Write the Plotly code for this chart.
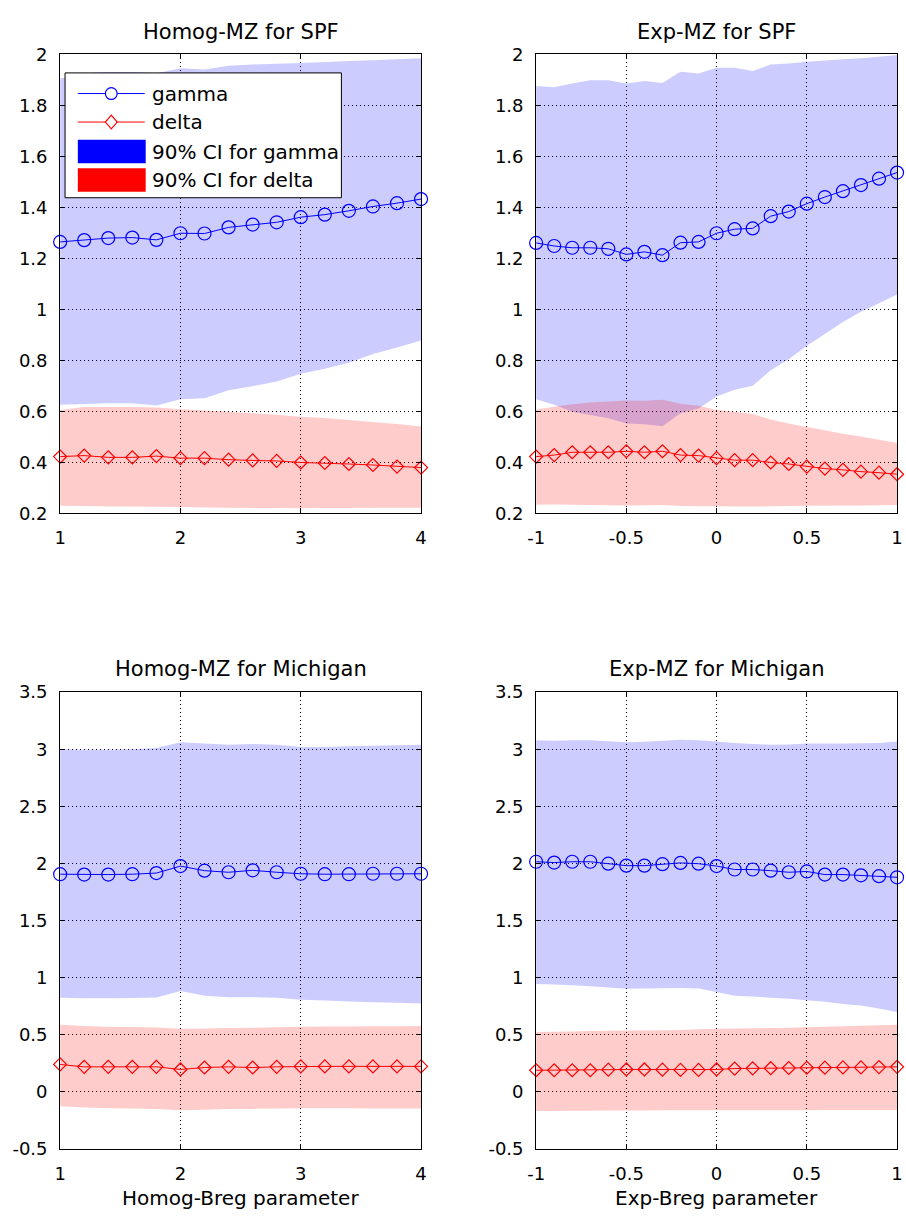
import plotly.graph_objects as go

# ---------------- data ----------------
x_homog = [1.0, 1.2, 1.4, 1.6, 1.8, 2.0, 2.2, 2.4, 2.6, 2.8, 3.0, 3.2, 3.4, 3.6, 3.8, 4.0]
x_exp = [-1.0, -0.9, -0.8, -0.7, -0.6, -0.5, -0.4, -0.3, -0.2, -0.1, 0.0,
         0.1, 0.2, 0.3, 0.4, 0.5, 0.6, 0.7, 0.8, 0.9, 1.0]

# Homog-MZ for SPF
spf_h_gamma = [1.264, 1.271, 1.279, 1.281, 1.272, 1.298, 1.297, 1.321, 1.332, 1.341, 1.361, 1.371, 1.386, 1.403, 1.416, 1.432]
spf_h_delta = [0.422, 0.426, 0.419, 0.419, 0.424, 0.416, 0.416, 0.410, 0.407, 0.405, 0.399, 0.397, 0.393, 0.389, 0.383, 0.379]
spf_h_g_up = [1.905, 1.925, 1.930, 1.930, 1.925, 1.945, 1.940, 1.955, 1.960, 1.963, 1.966, 1.970, 1.973, 1.976, 1.980, 1.984]
spf_h_g_lo = [0.625, 0.628, 0.631, 0.631, 0.622, 0.647, 0.651, 0.682, 0.698, 0.717, 0.747, 0.767, 0.790, 0.824, 0.850, 0.877]
spf_h_d_up = [0.605, 0.617, 0.617, 0.617, 0.615, 0.608, 0.603, 0.598, 0.592, 0.586, 0.578, 0.573, 0.566, 0.558, 0.550, 0.540]
spf_h_d_lo = [0.229, 0.228, 0.226, 0.226, 0.225, 0.224, 0.222, 0.221, 0.220, 0.220, 0.219, 0.220, 0.220, 0.221, 0.221, 0.221]

# Exp-MZ for SPF
spf_e_gamma = [1.260, 1.248, 1.241, 1.241, 1.237, 1.215, 1.225, 1.212, 1.261, 1.264, 1.298,
               1.314, 1.317, 1.365, 1.383, 1.414, 1.440, 1.463, 1.487, 1.512, 1.536]
spf_e_delta = [0.422, 0.428, 0.439, 0.439, 0.439, 0.443, 0.439, 0.443, 0.428, 0.426, 0.416,
               0.408, 0.408, 0.399, 0.393, 0.383, 0.375, 0.370, 0.363, 0.359, 0.353]
spf_e_g_up = [1.875, 1.871, 1.885, 1.898, 1.898, 1.885, 1.895, 1.887, 1.931, 1.924, 1.947,
              1.947, 1.934, 1.960, 1.964, 1.971, 1.975, 1.980, 1.984, 1.990, 1.997]
spf_e_g_lo = [0.647, 0.625, 0.598, 0.585, 0.572, 0.552, 0.549, 0.541, 0.592, 0.611, 0.658,
              0.684, 0.700, 0.761, 0.804, 0.857, 0.903, 0.950, 0.990, 1.023, 1.058]
spf_e_d_up = [0.607, 0.618, 0.627, 0.634, 0.638, 0.642, 0.641, 0.645, 0.629, 0.621, 0.605,
              0.598, 0.589, 0.568, 0.552, 0.538, 0.525, 0.512, 0.501, 0.488, 0.475]
spf_e_d_lo = [0.233, 0.234, 0.233, 0.232, 0.231, 0.230, 0.231, 0.232, 0.228, 0.227, 0.227,
              0.226, 0.226, 0.227, 0.228, 0.229, 0.229, 0.230, 0.230, 0.231, 0.232]

# Homog-MZ for Michigan
mich_h_gamma = [1.906, 1.903, 1.903, 1.906, 1.916, 1.977, 1.937, 1.923, 1.940, 1.923, 1.910, 1.906, 1.906, 1.910, 1.910, 1.910]
mich_h_delta = [0.241, 0.220, 0.220, 0.220, 0.220, 0.197, 0.214, 0.220, 0.214, 0.220, 0.224, 0.224, 0.224, 0.224, 0.224, 0.224]
mich_h_g_up = [3.000, 2.995, 2.995, 3.000, 3.010, 3.062, 3.050, 3.040, 3.045, 3.040, 3.020, 3.020, 3.025, 3.030, 3.035, 3.040]
mich_h_g_lo = [0.825, 0.820, 0.820, 0.822, 0.826, 0.883, 0.842, 0.830, 0.830, 0.825, 0.808, 0.800, 0.791, 0.785, 0.780, 0.774]
mich_h_d_up = [0.588, 0.578, 0.570, 0.568, 0.565, 0.554, 0.556, 0.560, 0.562, 0.566, 0.570, 0.572, 0.574, 0.575, 0.576, 0.577]
mich_h_d_lo = [-0.126, -0.135, -0.143, -0.145, -0.150, -0.160, -0.155, -0.150, -0.148, -0.145, -0.143, -0.143, -0.143, -0.145, -0.145, -0.145]

# Exp-MZ for Michigan
mich_e_gamma = [2.015, 2.008, 2.015, 2.015, 1.998, 1.981, 1.981, 1.994, 2.005, 1.998, 1.977,
                1.947, 1.947, 1.937, 1.923, 1.930, 1.903, 1.903, 1.896, 1.889, 1.879]
mich_e_delta = [0.190, 0.190, 0.190, 0.190, 0.195, 0.197, 0.197, 0.195, 0.193, 0.193, 0.197,
                0.205, 0.207, 0.208, 0.210, 0.212, 0.213, 0.215, 0.215, 0.218, 0.220]
mich_e_g_up = [3.079, 3.075, 3.078, 3.078, 3.070, 3.062, 3.065, 3.075, 3.082, 3.078, 3.068,
               3.055, 3.045, 3.040, 3.042, 3.050, 3.050, 3.050, 3.052, 3.055, 3.068]
mich_e_g_lo = [0.944, 0.940, 0.935, 0.925, 0.915, 0.904, 0.905, 0.908, 0.910, 0.905, 0.876,
               0.842, 0.835, 0.825, 0.815, 0.802, 0.790, 0.770, 0.757, 0.730, 0.700]
mich_e_d_up = [0.526, 0.528, 0.530, 0.533, 0.536, 0.537, 0.539, 0.541, 0.543, 0.548, 0.553,
               0.555, 0.557, 0.560, 0.563, 0.567, 0.570, 0.575, 0.580, 0.584, 0.588]
mich_e_d_lo = [-0.167, -0.166, -0.165, -0.164, -0.163, -0.162, -0.162, -0.161, -0.161, -0.160, -0.160,
               -0.160, -0.160, -0.159, -0.159, -0.159, -0.158, -0.158, -0.158, -0.158, -0.158]

titles = ["Homog-MZ for SPF", "Exp-MZ for SPF", "Homog-MZ for Michigan", "Exp-MZ for Michigan"]
xlabels = ["Homog-Breg parameter", "Exp-Breg parameter"]
legend_names = ["gamma", "delta", "90% CI for gamma", "90% CI for delta"]

xt_homog = [1, 2, 3, 4]
xt_homog_txt = ["1", "2", "3", "4"]
xt_exp = [-1, -0.5, 0, 0.5, 1]
xt_exp_txt = ["-1", "-0.5", "0", "0.5", "1"]
yt_spf = [0.2, 0.4, 0.6, 0.8, 1.0, 1.2, 1.4, 1.6, 1.8, 2.0]
yt_spf_txt = ["0.2", "0.4", "0.6", "0.8", "1", "1.2", "1.4", "1.6", "1.8", "2"]
yt_mich = [-0.5, 0, 0.5, 1, 1.5, 2, 2.5, 3, 3.5]
yt_mich_txt = ["-0.5", "0", "0.5", "1", "1.5", "2", "2.5", "3", "3.5"]

# ---------------- figure ----------------
W, H = 906, 1222
FONT = "DejaVu Sans"
BLUE, RED = "#0000FF", "#FF0000"
BLUE_FILL, RED_FILL = "rgba(0,0,255,0.2)", "rgba(255,0,0,0.2)"


def fx(px):
    return px / W


def fy(py):
    return 1 - py / H


panels = [
    dict(x=x_homog, g=spf_h_gamma, d=spf_h_delta, gu=spf_h_g_up, gl=spf_h_g_lo, du=spf_h_d_up, dl=spf_h_d_lo,
         px=(52, 419), py=(44, 511), xr=[1, 4], yr=[0.2, 2], xt=(xt_homog, xt_homog_txt), yt=(yt_spf, yt_spf_txt)),
    dict(x=x_exp, g=spf_e_gamma, d=spf_e_delta, gu=spf_e_g_up, gl=spf_e_g_lo, du=spf_e_d_up, dl=spf_e_d_lo,
         px=(536, 903), py=(44, 511), xr=[-1, 1], yr=[0.2, 2], xt=(xt_exp, xt_exp_txt), yt=(yt_spf, yt_spf_txt)),
    dict(x=x_homog, g=mich_h_gamma, d=mich_h_delta, gu=mich_h_g_up, gl=mich_h_g_lo, du=mich_h_d_up, dl=mich_h_d_lo,
         px=(52, 419), py=(693, 1158), xr=[1, 4], yr=[-0.5, 3.5], xt=(xt_homog, xt_homog_txt), yt=(yt_mich, yt_mich_txt)),
    dict(x=x_exp, g=mich_e_gamma, d=mich_e_delta, gu=mich_e_g_up, gl=mich_e_g_lo, du=mich_e_d_up, dl=mich_e_d_lo,
         px=(536, 903), py=(693, 1158), xr=[-1, 1], yr=[-0.5, 3.5], xt=(xt_exp, xt_exp_txt), yt=(yt_mich, yt_mich_txt)),
]

fig = go.Figure()
layout_axes = {}
annotations = []
shapes = []

for i, p in enumerate(panels):
    n = "" if i == 0 else str(i + 1)
    xa, ya = "x" + n, "y" + n
    x = p["x"]
    fig.add_trace(go.Scatter(x=x + x[::-1], y=p["gu"] + p["gl"][::-1], fill="toself",
                             fillcolor=BLUE_FILL, line=dict(width=0), mode="none",
                             hoverinfo="skip", showlegend=False, xaxis=xa, yaxis=ya))
    fig.add_trace(go.Scatter(x=x + x[::-1], y=p["du"] + p["dl"][::-1], fill="toself",
                             fillcolor=RED_FILL, line=dict(width=0), mode="none",
                             hoverinfo="skip", showlegend=False, xaxis=xa, yaxis=ya))
    fig.add_trace(go.Scatter(x=x, y=p["g"], mode="lines+markers", cliponaxis=False, name=legend_names[0],
                             line=dict(color=BLUE, width=1),
                             marker=dict(symbol="circle-open", size=13, color=BLUE, line=dict(width=1.2)),
                             showlegend=False, xaxis=xa, yaxis=ya))
    fig.add_trace(go.Scatter(x=x, y=p["d"], mode="lines+markers", cliponaxis=False, name=legend_names[1],
                             line=dict(color=RED, width=1),
                             marker=dict(symbol="diamond-open", size=10, color=RED, line=dict(width=1.2)),
                             showlegend=False, xaxis=xa, yaxis=ya))

    common = dict(showline=True, linecolor="black", linewidth=1, mirror="ticks",
                  ticks="inside", ticklen=5, tickcolor="black",
                  showgrid=True, gridcolor="black", gridwidth=1, griddash="1px,3px",
                  zeroline=False, tickfont=dict(family=FONT, size=18, color="black"),
                  fixedrange=True)
    layout_axes["xaxis" + n] = dict(common, domain=[fx(p["px"][0]), fx(p["px"][1])], range=p["xr"],
                                    tickmode="array", tickvals=p["xt"][0], ticktext=p["xt"][1],
                                    anchor=ya, ticklabelstandoff=8)
    layout_axes["yaxis" + n] = dict(common, domain=[fy(p["py"][1]), fy(p["py"][0])], range=p["yr"],
                                    tickmode="array", tickvals=p["yt"][0], ticktext=p["yt"][1],
                                    anchor=xa, ticklabelstandoff=8)
    cx = fx((p["px"][0] + p["px"][1]) / 2)
    ty = 21 if i < 2 else 670
    annotations.append(dict(text=titles[i], x=cx, y=fy(ty), xref="paper", yref="paper",
                            xanchor="center", yanchor="middle", showarrow=False,
                            font=dict(family=FONT, size=21, color="black")))
    if i >= 2:
        annotations.append(dict(text=xlabels[i - 2], x=cx, y=fy(1208), xref="paper", yref="paper",
                                xanchor="center", yanchor="middle", showarrow=False,
                                font=dict(family=FONT, size=20, color="black")))

# ---------------- legend (drawn in paper coordinates) ----------------
LX0, LY0, LX1, LY1 = 57, 63, 338, 190
shapes.append(dict(type="rect", xref="paper", yref="paper", x0=fx(LX0), x1=fx(LX1), y0=fy(LY1), y1=fy(LY0),
                   fillcolor="white", line=dict(color="black", width=1), layer="above"))
rows = [84, 113, 143, 172]
SX0, SX1, SXC = 70, 138, 104
# gamma row
shapes.append(dict(type="line", xref="paper", yref="paper", x0=fx(SX0), x1=fx(SX1), y0=fy(rows[0]), y1=fy(rows[0]),
                   line=dict(color=BLUE, width=1)))
shapes.append(dict(type="circle", xref="paper", yref="paper", x0=fx(SXC - 6), x1=fx(SXC + 6),
                   y0=fy(rows[0] + 6), y1=fy(rows[0] - 6), fillcolor="white", line=dict(color=BLUE, width=1.2)))
# delta row
shapes.append(dict(type="line", xref="paper", yref="paper", x0=fx(SX0), x1=fx(SX1), y0=fy(rows[1]), y1=fy(rows[1]),
                   line=dict(color=RED, width=1)))
dpath = "M {a},{b} L {c},{d} L {a},{e} L {f},{d} Z".format(
    a=fx(SXC), b=fy(rows[1] - 7), c=fx(SXC + 6), d=fy(rows[1]), e=fy(rows[1] + 7), f=fx(SXC - 6))
shapes.append(dict(type="path", xref="paper", yref="paper", path=dpath, fillcolor="white",
                   line=dict(color=RED, width=1.2)))
# CI rows
shapes.append(dict(type="rect", xref="paper", yref="paper", x0=fx(SX0), x1=fx(SX1 + 1),
                   y0=fy(rows[2] + 12), y1=fy(rows[2] - 12), fillcolor=BLUE, line=dict(width=0)))
shapes.append(dict(type="rect", xref="paper", yref="paper", x0=fx(SX0), x1=fx(SX1 + 1),
                   y0=fy(rows[3] + 12), y1=fy(rows[3] - 12), fillcolor=RED, line=dict(width=0)))
for name, ry in zip(legend_names, rows):
    annotations.append(dict(text=name, x=fx(143), y=fy(ry), xref="paper", yref="paper",
                            xanchor="left", yanchor="middle", showarrow=False,
                            font=dict(family=FONT, size=20, color="black")))

fig.update_layout(
    width=W, height=H, margin=dict(l=0, r=0, t=0, b=0),
    paper_bgcolor="white", plot_bgcolor="white",
    font=dict(family=FONT, size=18, color="black"),
    showlegend=False,
    annotations=annotations,
    shapes=shapes,
    **layout_axes,
)

fig.write_html("out.html")
